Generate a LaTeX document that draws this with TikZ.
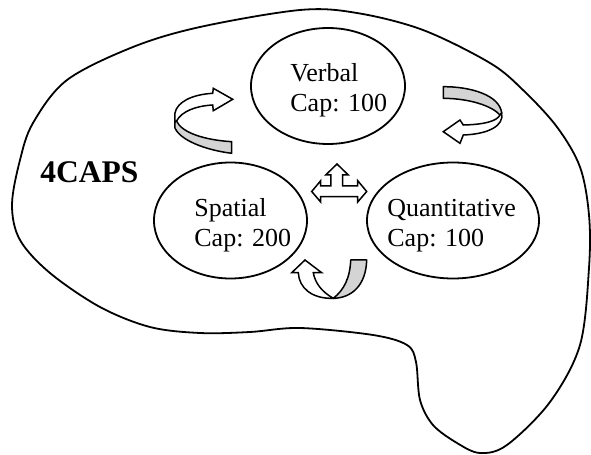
\documentclass[tikz,border=0pt]{standalone}
\usepackage{fontspec}
\setmainfont{Liberation Serif}
\usetikzlibrary{shapes.geometric}
\tikzset{
  outline/.style={draw=black, line width=0.9pt},
  module/.style={outline, ellipse, inner sep=0pt, minimum height=58pt},
  lbl/.style={inner sep=0pt, anchor=base west, font=\fontsize{13}{15}\selectfont},
  title/.style={inner sep=0pt, anchor=base west, font=\fontsize{15.75}{18}\selectfont\bfseries},
  whitepart/.style={draw=black, fill=white, line width=0.75pt, line join=miter},
  graypart/.style={draw=black, fill=black!17, line width=0.75pt, line join=round},
}
\begin{document}
\begin{tikzpicture}[x=0.5pt, y=-0.5pt]
\useasboundingbox (0,0) rectangle (591,455);
% outer blob
\draw[outline] plot[smooth cycle, tension=0.55] coordinates {
 (12,205) (20,160) (33,123) (67,80) (133,47) (200,27) (300,10) (357,13)
 (423,30) (490,63) (523,90) (557,127) (580,167) (589,215) (589,268)
 (580,345) (550,402) (507,445) (480,453) (457,443) (433,425) (420,400)
 (416,362) (407,345) (373,335) (300,328) (250,332) (200,333) (150,327)
 (100,307) (50,273) (20,240)};
% modules
\node[module, minimum width=77pt] (verbal) at (328,86) {};
\node[module, minimum width=76.5pt] (spatial) at (230.5,220.5) {};
\node[module, minimum width=86pt] (quant) at (453,220.5) {};
\node[lbl] (vname) at (290,81.7) {Verbal};
\node[lbl] (vcap) at (290,111.7) {Cap: 100};
\node[lbl] (sname) at (194,216.7) {Spatial};
\node[lbl] (scap) at (194,246.7) {Cap: 200};
\node[lbl] (qname) at (387,216.5) {Quantitative};
\node[lbl] (qcap) at (387,246.7) {Cap: 100};
\node[title] (caps) at (40,183) {4CAPS};
% top-left curved arrow
\draw[graypart] (176.5,121) .. controls (182,133) and (205,140) .. (231.7,141.7)
  -- (231.7,153.3) .. controls (205,150) and (180,140) .. (175,128) -- (175,122) -- cycle;
\draw[whitepart] (175,122) -- (175,113) .. controls (177,102) and (192,94.5) .. (212.7,93.3)
  -- (213.3,88.3) -- (232.7,99.3) -- (213.3,110.7) -- (212.7,105)
  .. controls (196,106) and (182,111) .. (176.5,121) -- cycle;
% top-right curved arrow
\draw[graypart] (443.3,86.7) .. controls (470,86.5) and (500,95) .. (501.7,113.3)
  -- (500,115) .. controls (492,106) and (470,98.5) .. (443.3,98.3) -- cycle;
\draw[whitepart] (501.7,113.3) .. controls (504,125) and (490,134) .. (463.3,135)
  -- (460,143.3) -- (443.3,131.7) -- (460,120) -- (463.3,125)
  .. controls (485,124.5) and (497,121) .. (500,115) -- cycle;
% bottom curved arrow
\draw[graypart] (350.7,260) -- (366.7,260) .. controls (366,285) and (352,298) .. (333.3,298.3)
  .. controls (344,290) and (350,278) .. (350.7,260) -- cycle;
\draw[whitepart] (333.3,298.3) .. controls (312,299) and (299,288) .. (298.3,272.7)
  -- (291.7,272.7) -- (305,260) -- (321.7,272.7) -- (313.3,272.7)
  .. controls (315,283) and (322,292) .. (333.3,298.3) -- cycle;
% central three-way arrow
\draw[whitepart] (311.7,191.5) -- (320.7,180.7) -- (320.7,186) -- (331,186) -- (331,175)
  -- (325.7,175) -- (337,164) -- (348.3,175) -- (342.7,175) -- (342.7,186)
  -- (357.7,186) -- (357.7,180.7) -- (366.7,191.5) -- (357.7,202) -- (357.7,196.7)
  -- (320.7,196.7) -- (320.7,202) -- cycle;
\end{tikzpicture}
\end{document}
